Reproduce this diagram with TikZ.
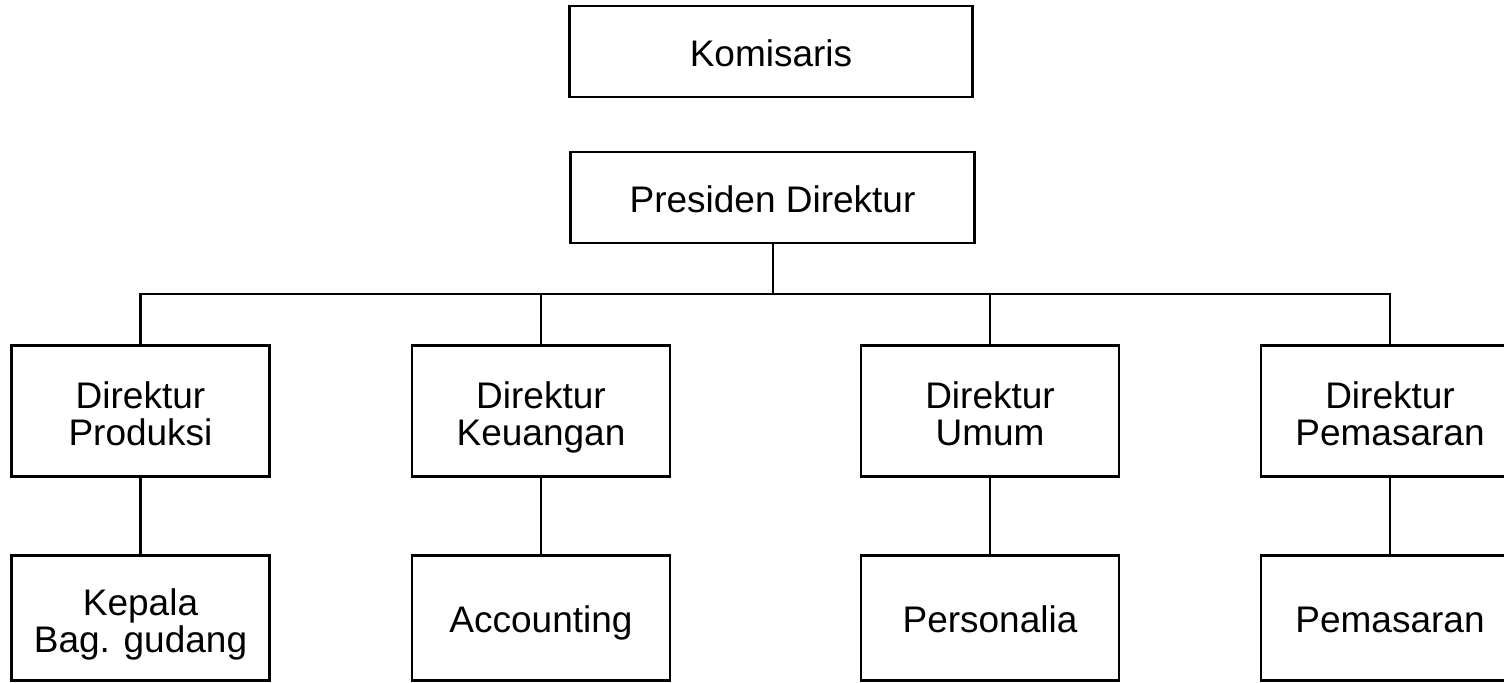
\documentclass[tikz,border=0pt]{standalone}
\usepackage{fontspec}
\setmainfont{Liberation Sans}
\usepackage{tikz}
\usetikzlibrary{calc}

\newcommand{\firstrow}{\rule{0pt}{21pt}}

\tikzset{
  orgbox/.style={draw, line width=1.3pt, inner sep=0pt, align=center,
    font=\fontsize{18.5}{18.3}\selectfont,
    execute at begin node={\rule{0pt}{20pt}},
    execute at end node={\rule[-5pt]{0pt}{5pt}}},
  toprow/.style={orgbox, minimum width=4.02cm*1.7638, minimum height=0.91cm*1.7638},
  midrow/.style={orgbox, minimum width=2.57cm*1.7638, minimum height=1.30cm*1.7638},
  lowrow/.style={orgbox, minimum width=2.57cm*1.7638, minimum height=1.24cm*1.7638},
  link/.style={line width=1.3pt}
}

\begin{document}
\begin{tikzpicture}[x=50pt, y=50pt]

\useasboundingbox (0,0) rectangle (15.04,-6.83);

\node[toprow] (komisaris) at (7.71,-0.515) {Komisaris};
\node[toprow] (presdir) at (7.725,-1.975) {Presiden Direktur};

\coordinate (bus) at (7.73,-2.94);

\node[midrow] (produksi) at (1.405,-4.11) {\firstrow Direktur\\Produksi};
\node[midrow] (keuangan) at (5.41,-4.11) {\firstrow Direktur\\Keuangan};
\node[midrow] (umum) at (9.90,-4.11) {\firstrow Direktur\\Umum};
\node[midrow] (pemasaran) at (13.90,-4.11) {\firstrow Direktur\\Pemasaran};

\node[lowrow] (gudang) at (1.405,-6.18) {\firstrow Kepala\\Bag. gudang};
\node[lowrow] (accounting) at (5.41,-6.18) {Accounting};
\node[lowrow] (personalia) at (9.90,-6.18) {Personalia};
\node[lowrow] (pemasaranbag) at (13.90,-6.18) {Pemasaran};

\draw[link] (presdir.south -| bus) -- (bus);
\draw[link] (produksi.north) |- (bus) -| (pemasaran.north);
\draw[link] (keuangan.north) -- (keuangan.north |- bus);
\draw[link] (umum.north) -- (umum.north |- bus);

\draw[link] (produksi) -- (gudang);
\draw[link] (keuangan) -- (accounting);
\draw[link] (umum) -- (personalia);
\draw[link] (pemasaran) -- (pemasaranbag);

\end{tikzpicture}
\end{document}
